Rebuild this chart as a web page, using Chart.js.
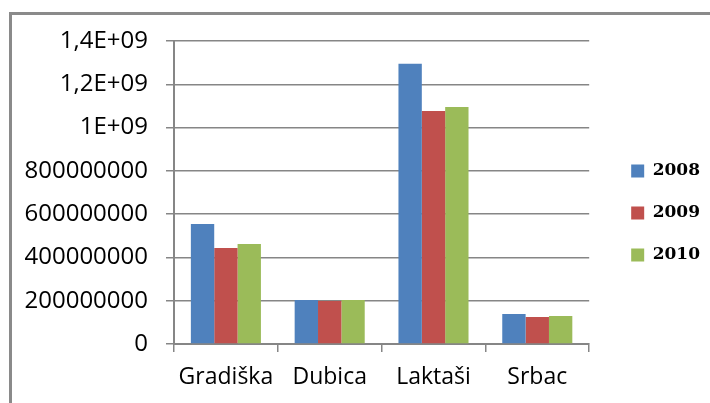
<!DOCTYPE html>
<html>
<head>
<meta charset="utf-8">
<script src="https://cdn.jsdelivr.net/npm/chart.js@4"></script>
<style>
  body { margin: 0; background: #fff; overflow: hidden; }
  #wrap { position: relative; width: 710px; height: 403px; }
  #frame { position: absolute; left: 9px; top: 12px; width: 720px; height: 420px;
           border-left: 3px solid #8a8a8a; border-top: 3px solid #8a8a8a; }
  #chart { position: absolute; left: 0; top: 0; }
</style>
</head>
<body>
<div id="wrap">
  <div id="frame"></div>
  <canvas id="chart" width="710" height="403"></canvas>
</div>
<script>
// values
var towns = ['Gradiška', 'Dubica', 'Laktaši', 'Srbac'];
var years = ['2008', '2009', '2010'];
var v2008 = [555000000, 203000000, 1295000000, 139000000];
var v2009 = [443000000, 199000000, 1077000000, 125000000];
var v2010 = [462000000, 203000000, 1095000000, 129000000];
var yTicks = ['0', '200000000', '400000000', '600000000', '800000000', '1E+09', '1,2E+09', '1,4E+09'];

var colors = ['#4F81BD', '#C0504D', '#9BBB59'];
var gridColor = '#868686';

const ctx = document.getElementById('chart');

new Chart(ctx, {
  type: 'bar',
  data: {
    labels: towns,
    datasets: [
      { label: years[0], data: v2008, backgroundColor: colors[0] },
      { label: years[1], data: v2009, backgroundColor: colors[1] },
      { label: years[2], data: v2010, backgroundColor: colors[2] }
    ]
  },
  options: {
    responsive: false,
    animation: false,
    datasets: {
      bar: { categoryPercentage: 0.675, barPercentage: 1.0 }
    },
    layout: {
      padding: { top: 41, bottom: 18, left: 0, right: 0 }
    },
    plugins: {
      tooltip: { enabled: false },
      legend: {
        position: 'right',
        labels: {
          boxWidth: 13,
          boxHeight: 13,
          padding: 25,
          color: '#000',
          font: { family: '"DejaVu Serif"', size: 17, weight: 'bold' }
        }
      }
    },
    scales: {
      x: {
        grid: { drawOnChartArea: false, drawTicks: true, tickLength: 8, color: gridColor, lineWidth: 1.5 },
        border: { color: gridColor, width: 2 },
        ticks: {
          color: '#000',
          padding: 12,
          autoSkip: false,
          maxRotation: 0,
          minRotation: 0,
          font: { family: '"Open Sans"', size: 23 }
        },
        afterFit: function(s) { s.height = 41; }
      },
      y: {
        min: 0,
        max: 1400000000,
        ticks: {
          stepSize: 200000000,
          color: '#000',
          padding: 18,
          font: { family: '"Open Sans"', size: 24 },
          callback: function(v, i) { return yTicks[i]; }
        },
        grid: { color: gridColor, lineWidth: 1.5, tickLength: 8 },
        border: { color: gridColor, width: 2 },
        afterFit: function(s) { s.width = 174; }
      },
      gap: {
        type: 'linear',
        position: 'right',
        grid: { display: false },
        border: { display: false },
        ticks: { display: false },
        afterFit: function(s) { s.width = 17; }
      }
    }
  }
});
</script>
</body>
</html>
